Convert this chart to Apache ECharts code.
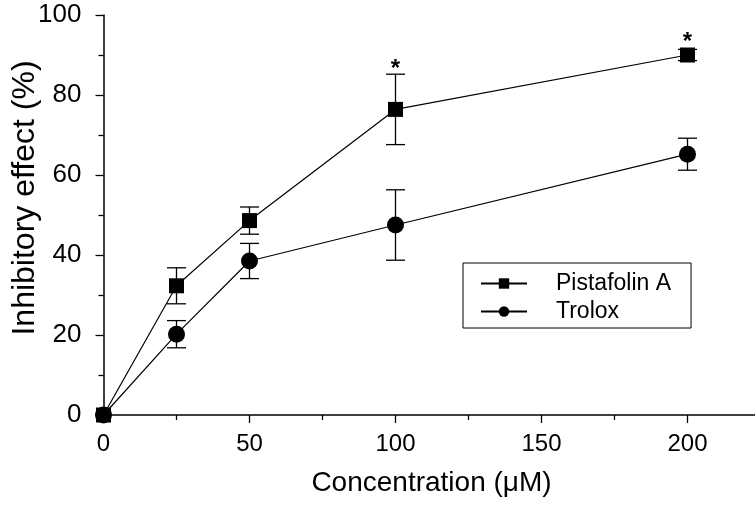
<!DOCTYPE html>
<html>
<head>
<meta charset="utf-8">
<script src="https://cdn.jsdelivr.net/npm/echarts@6/dist/echarts.min.js"></script>
<style>
    html, body { margin: 0; padding: 0; background: #fff; }
    #chart { width: 755px; height: 506px; }
</style>
</head>
<body>
<div id="chart"></div>
<script>
    // concentration (uM) and inhibitory effect (%)
    var concentrations = [0, 25, 50, 100, 200];
    var pistafolinA = [0, 32.3, 48.6, 76.4, 90.0];
    var pistafolinErr = [0, 4.5, 3.4, 8.8, 1.4];
    var trolox = [0, 20.2, 38.5, 47.5, 65.2];
    var troloxErr = [0, 3.4, 4.4, 8.8, 4.0];
    var significant = [false, false, false, true, true]; // '*' over Pistafolin A

    var xTickLabels = [0, 50, 100, 150, 200];
    var yTickLabels = [0, 20, 40, 60, 80, 100];

    var FONT = 'Liberation Sans, Arial, sans-serif';

    function pairs(ys) {
        return concentrations.map(function (x, i) { return [x, ys[i]]; });
    }

    function errorRows(ys, errs, stars) {
        return concentrations.map(function (x, i) {
            return [x, ys[i], errs[i], stars ? (stars[i] ? 1 : 0) : 0];
        });
    }

    function errorBars(rows, markerHalf) {
        return {
            type: 'custom',
            silent: true,
            z: 3,
            data: rows,
            renderItem: function (params, api) {
                var x = api.value(0), y = api.value(1), e = api.value(2);
                var c = api.coord([x, y]);
                var top = api.coord([x, y + e]);
                var bot = api.coord([x, y - e]);
                var hw = 9.5;
                var st = { stroke: '#000', lineWidth: 1.3 };
                var children = [];
                if (e > 0) {
                    children.push(
                        { type: 'line', shape: { x1: top[0], y1: top[1], x2: bot[0], y2: bot[1] }, style: st },
                        { type: 'line', shape: { x1: top[0] - hw, y1: top[1], x2: top[0] + hw, y2: top[1] }, style: st },
                        { type: 'line', shape: { x1: bot[0] - hw, y1: bot[1], x2: bot[0] + hw, y2: bot[1] }, style: st }
                    );
                }
                if (api.value(3)) {
                    var upper = Math.min(top[1], c[1] - markerHalf);
                    children.push({
                        type: 'text',
                        x: c[0],
                        y: upper - 5,
                        style: {
                            text: '*',
                            font: 'bold 24px ' + FONT,
                            fill: '#000',
                            align: 'center',
                            verticalAlign: 'middle'
                        }
                    });
                }
                return { type: 'group', children: children };
            }
        };
    }

    var chart = echarts.init(document.getElementById('chart'));

    var option = {
        backgroundColor: '#fff',
        animation: false,
        grid: { left: 103.5, top: 15, bottom: 91, right: -78.5, outerBoundsMode: 'none', containLabel: false },
        legend: {
            data: ['Pistafolin A', 'Trolox'],
            orient: 'vertical',
            left: 463,
            top: 263,
            padding: [9, 20, 5, 17],
            borderColor: '#000',
            borderWidth: 1,
            itemWidth: 46,
            itemHeight: 13,
            itemGap: 5,
            selectedMode: false,
            textStyle: { color: '#000', fontSize: 23, fontFamily: FONT, padding: [0, 0, 0, 24] }
        },
        xAxis: {
            type: 'value',
            min: 0,
            max: 250,
            interval: 50,
            name: 'Concentration (μM)',
            nameLocation: 'middle',
            nameGap: 54,
            nameMoveOverlap: false,
            nameTextStyle: { color: '#000', fontSize: 28, fontFamily: FONT, padding: [0, 74, 0, 0] },
            splitLine: { show: false },
            axisLine: { lineStyle: { color: '#000', width: 1.5 } },
            axisTick: { length: 8, lineStyle: { color: '#000', width: 1.3 } },
            minorTick: { show: true, splitNumber: 2, length: 5, lineStyle: { color: '#000', width: 1.3 } },
            axisLabel: {
                color: '#000', fontSize: 24, fontFamily: FONT, margin: 17,
                formatter: function (v) { return xTickLabels.indexOf(v) >= 0 ? String(v) : ''; }
            }
        },
        yAxis: {
            type: 'value',
            min: 0,
            max: 100,
            interval: 20,
            name: 'Inhibitory effect (%)',
            nameLocation: 'middle',
            nameGap: 62,
            nameMoveOverlap: false,
            nameTextStyle: { color: '#000', fontSize: 32, fontFamily: FONT, padding: [0, 0, 0, 34] },
            splitLine: { show: false },
            axisLine: { show: true, lineStyle: { color: '#000', width: 1.5 } },
            axisTick: { show: true, length: 8, lineStyle: { color: '#000', width: 1.3 } },
            minorTick: { show: true, splitNumber: 2, length: 5, lineStyle: { color: '#000', width: 1.3 } },
            axisLabel: {
                color: '#000', fontSize: 26, fontFamily: FONT, margin: 22,
                formatter: function (v) { return yTickLabels.indexOf(v) >= 0 ? String(v) : ''; }
            }
        },
        series: [
            {
                name: 'Trolox',
                type: 'line',
                data: pairs(trolox),
                symbol: 'circle',
                symbolSize: 17,
                z: 4,
                itemStyle: { color: '#000' },
                lineStyle: { color: '#000', width: 1.2 }
            },
            {
                name: 'Pistafolin A',
                type: 'line',
                data: pairs(pistafolinA),
                symbol: 'rect',
                symbolSize: 15,
                z: 5,
                itemStyle: { color: '#000' },
                lineStyle: { color: '#000', width: 1.2 }
            },
            errorBars(errorRows(trolox, troloxErr), 8.5),
            errorBars(errorRows(pistafolinA, pistafolinErr, significant), 7.5)
        ]
    };

    chart.setOption(option);
</script>
</body>
</html>
